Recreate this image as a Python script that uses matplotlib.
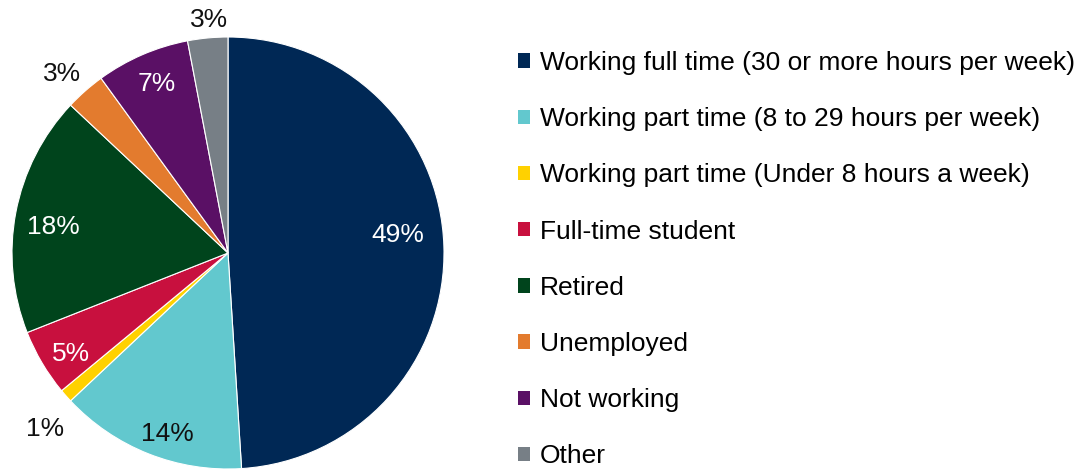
import matplotlib
matplotlib.use("Agg")
import matplotlib.pyplot as plt
from matplotlib.patches import Patch
import numpy as np

plt.rcParams['font.family'] = ['Liberation Sans', 'DejaVu Sans']

categories = [
    "Working full time (30 or more hours per week)",
    "Working part time (8 to 29 hours per week)",
    "Working part time (Under 8 hours a week)",
    "Full-time student",
    "Retired",
    "Unemployed",
    "Not working",
    "Other",
]
shares = [49, 14, 1, 5, 18, 3, 7, 3]
colors = ["#002855", "#62C8CE", "#FFD100", "#C8103E", "#00441C", "#E37B2E", "#5A1065", "#777F86"]
label_colors = ["white", "#111111", "#111111", "white", "white", "#111111", "white", "#111111"]
# radial distance of each percentage label and a small angular nudge (degrees)
label_radius = [0.79, 0.875, 1.17, 0.86, 0.82, 1.14, 0.86, 1.09]
label_nudge = [4.9, 2.8, 2.2, 1.5, 1.8, 1.1, -0.9, -0.8]

W, H = 1090, 470
fig = plt.figure(figsize=(W / 100, H / 100), dpi=100)

cx, cy, R = 228, 253, 216
ax = fig.add_axes([(cx - R) / W, (H - cy - R) / H, 2 * R / W, 2 * R / H])
wedges, _ = ax.pie(shares, colors=colors, startangle=90, counterclock=False,
                   radius=1, wedgeprops=dict(edgecolor="white", linewidth=0.8))
ax.set_xlim(-1, 1)
ax.set_ylim(-1, 1)
ax.set_aspect("equal")
ax.axis("off")

for w, v, c, r, d in zip(wedges, shares, label_colors, label_radius, label_nudge):
    ang = np.deg2rad((w.theta1 + w.theta2) / 2 + d)
    ax.text(r * np.cos(ang), r * np.sin(ang) - 0.01, f"{v}%", ha="center", va="center",
            fontsize=19, color=c, clip_on=False)

handles = [Patch(facecolor=c, edgecolor="none") for c in colors]
fig.legend(handles, categories, loc="upper left",
           bbox_to_anchor=(518 / W, (H - 51) / H), frameon=False,
           fontsize=19, handlelength=0.46, handleheight=0.46,
           handletextpad=0.38, labelspacing=1.22, borderpad=0, borderaxespad=0)

fig.savefig("out.png", dpi=100)
